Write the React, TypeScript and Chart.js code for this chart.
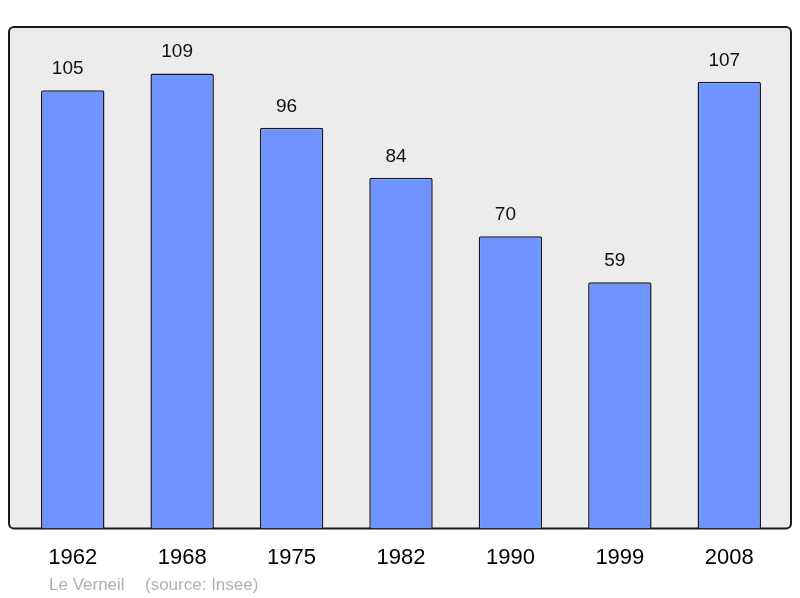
import React, { useEffect, useRef } from "react";
import { Chart, registerables } from "chart.js";

Chart.register(...registerables);

const categories = ["1962", "1968", "1975", "1982", "1990", "1999", "2008"];
const populationValues = [105, 109, 96, 84, 70, 59, 107];
const yMin = 0;
const yMax = 120;
const placeName = "Le Verneil";
const sourceText = "(source: Insee)";

const FONT = "'Liberation Sans', Arial, sans-serif";

const framePlugin = {
  id: "frame",
  beforeDraw(chart: any) {
    const { ctx, chartArea } = chart;
    const l = chartArea.left - 9;
    const t = chartArea.top - 0.5;
    const r = chartArea.right + 7;
    const b = chartArea.bottom;
    ctx.save();
    ctx.beginPath();
    (ctx as any).roundRect(l, t, r - l, b - t, 5);
    ctx.fillStyle = "#ececec";
    ctx.fill();
    ctx.lineWidth = 2;
    ctx.strokeStyle = "#1a1a1a";
    ctx.stroke();
    ctx.restore();
  },
  afterDraw(chart: any) {
    const { ctx } = chart;
    ctx.save();
    ctx.font = `17px ${FONT}`;
    ctx.fillStyle = "#b0b0b0";
    ctx.textBaseline = "alphabetic";
    ctx.textAlign = "left";
    ctx.fillText(placeName, 49, 590);
    ctx.fillText(sourceText, 145, 590);
    ctx.restore();
  },
};

const valueLabelPlugin = {
  id: "valueLabels",
  afterDatasetsDraw(chart: any) {
    const { ctx } = chart;
    const meta = chart.getDatasetMeta(0);
    ctx.save();
    ctx.font = `19px ${FONT}`;
    ctx.fillStyle = "#111";
    ctx.textAlign = "center";
    ctx.textBaseline = "alphabetic";
    meta.data.forEach((bar: any, i: number) => {
      ctx.fillText(String(populationValues[i]), bar.x - 5, bar.y - 16);
    });
    ctx.restore();
  },
};

export default function App() {
  const canvasRef = useRef<HTMLCanvasElement | null>(null);

  useEffect(() => {
    if (!canvasRef.current) return;
    const chart = new Chart(canvasRef.current, {
      type: "bar",
      data: {
        labels: categories,
        datasets: [
          {
            data: populationValues,
            backgroundColor: "#7094ff",
            borderColor: "#1a1a1a",
            borderWidth: 1.5,
            borderRadius: 2,
            borderSkipped: "bottom",
            barPercentage: 0.58,
            categoryPercentage: 1,
          },
        ],
      },
      options: {
        animation: false,
        responsive: false,
        maintainAspectRatio: false,
        layout: { padding: { left: 18, right: 16, top: 27.5, bottom: 19 } },
        plugins: {
          legend: { display: false },
          tooltip: { enabled: false },
          title: { display: false },
        },
        scales: {
          x: {
            grid: { display: false },
            border: { display: false },
            ticks: {
              color: "#000",
              font: { family: FONT, size: 22 },
              padding: 8,
              maxRotation: 0,
            },
          },
          y: {
            display: false,
            min: yMin,
            max: yMax,
          },
        },
      },
      plugins: [framePlugin, valueLabelPlugin],
    });
    return () => chart.destroy();
  }, []);

  return (
    <div style={{ position: "fixed", left: 0, top: 0, width: 800, height: 598, background: "#fff" }}>
      <canvas ref={canvasRef} width={800} height={598} style={{ display: "block" }} />
    </div>
  );
}
